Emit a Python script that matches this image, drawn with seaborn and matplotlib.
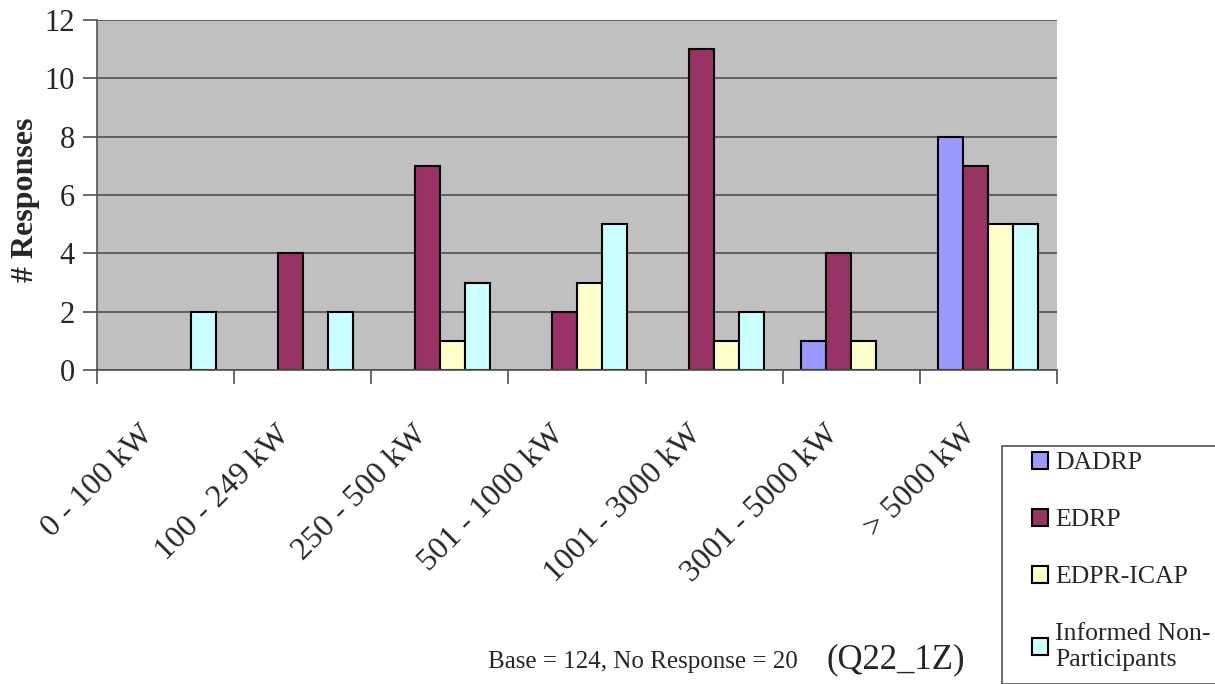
import numpy as np
import matplotlib

matplotlib.use("Agg")
import matplotlib.pyplot as plt  # noqa: E402
import pandas as pd  # noqa: E402
import seaborn as sns  # noqa: E402
from matplotlib.patches import Patch, Rectangle  # noqa: E402
from matplotlib.transforms import ScaledTranslation  # noqa: E402

categories = [
    "0 - 100 kW",
    "100 - 249 kW",
    "250 - 500 kW",
    "501 - 1000 kW",
    "1001 - 3000 kW",
    "3001 - 5000 kW",
    "> 5000 kW",
]
programs = ["DADRP", "EDRP", "EDPR-ICAP", "Informed Non-\nParticipants"]
dadrp = [0, 0, 0, 0, 0, 1, 8]
edrp = [0, 4, 7, 2, 11, 4, 7]
edpr_icap = [0, 0, 1, 3, 1, 1, 5]
informed_np = [2, 2, 3, 5, 2, 0, 5]
colors = ["#9999FF", "#993366", "#FFFFCC", "#CCFFFF"]

rows = []
for prog, vals in zip(programs, [dadrp, edrp, edpr_icap, informed_np]):
    for cat, v in zip(categories, vals):
        rows.append({"size": cat, "program": prog, "responses": v})
df = pd.DataFrame(rows)

sns.set_style("white")
plt.rcParams["font.family"] = ["Liberation Serif", "DejaVu Serif"]

W, H = 1215, 684
fig = plt.figure(figsize=(W / 100, H / 100), dpi=100)
ax = fig.add_axes([97 / W, 1 - 370 / H, 960 / W, 350 / H])
ax.set_facecolor("#C0C0C0")
ax.set_axisbelow(True)

sns.barplot(
    data=df,
    x="size",
    y="responses",
    hue="program",
    hue_order=programs,
    palette=colors,
    saturation=1,
    width=0.73,
    gap=0,
    edgecolor="black",
    linewidth=1.5,
    ax=ax,
    legend=False,
)
# hide zero-height bars (seaborn still draws their edges)
for p in ax.patches:
    if p.get_height() == 0:
        p.set_visible(False)

ax.set_xlim(-0.5, len(categories) - 0.5)
ax.set_ylim(0, 12)
ax.set_yticks(np.arange(0, 13, 2))
ax.yaxis.grid(True, color="#505050", linewidth=1.2)
ax.tick_params(axis="y", labelsize=22, length=10, width=1.2, color="#505050", left=True, pad=6)

ax.set_xticks(range(len(categories)))
ax.set_xticklabels(categories, rotation=45, ha="right", rotation_mode="anchor", fontsize=23)
ax.tick_params(axis="x", length=0, pad=36)
shift = ScaledTranslation(-0.27, 0, fig.dpi_scale_trans)
for lbl in ax.get_xticklabels():
    lbl.set_transform(lbl.get_transform() + shift)
ax.set_xticks(np.arange(-0.5, len(categories), 1), minor=True)
ax.tick_params(axis="x", which="minor", length=10, width=1.2, color="#505050", bottom=True)

ax.set_xlabel("")
ax.set_ylabel("# Responses", fontsize=23, fontweight="bold")
ax.yaxis.set_label_coords(-0.059, 0.485)
for side in ["top", "right"]:
    ax.spines[side].set_visible(False)
for side in ["left", "bottom"]:
    ax.spines[side].set_color("#505050")
    ax.spines[side].set_linewidth(1.2)

# legend box runs off the figure edge as in the source
fig.patches.append(
    Rectangle(
        (1002 / W, 0), 1, 1 - 446 / H,
        transform=fig.transFigure, facecolor="white",
        edgecolor="#505050", linewidth=1.2, zorder=0,
    )
)
handles = [Patch(facecolor=c, edgecolor="black", linewidth=1.5) for c in colors]
fig.legend(
    handles,
    programs,
    loc="upper left",
    bbox_to_anchor=(1032 / W, 1 - 452 / H),
    fontsize=18.5,
    frameon=False,
    handlelength=0.62,
    handleheight=0.62,
    handletextpad=0.27,
    labelspacing=1.35,
    borderaxespad=0,
    borderpad=0,
)

fig.text(488 / W, 1 - 668 / H, "Base = 124, No Response = 20", fontsize=18)
fig.text(826 / W, 1 - 668 / H, "(Q22_1Z)", fontsize=25)

plt.savefig("out.png", dpi=100)
plt.close(fig)
